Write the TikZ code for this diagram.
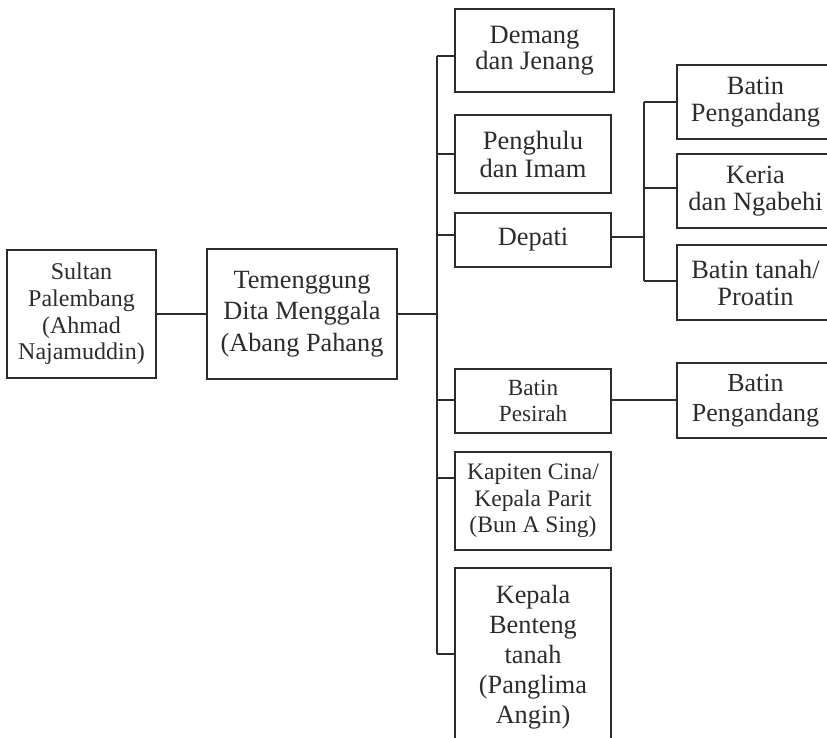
\documentclass[tikz,border=0pt]{standalone}
\usepackage{fontspec}
\setmainfont{Liberation Serif}
\definecolor{ink}{HTML}{2E2B2C}
\tikzset{
  box/.style={draw=ink, text=ink, line width=1.4pt, inner sep=0pt, align=center,
              minimum width=#1},
  box/.default=156pt,
  link/.style={draw=ink, line width=1.4pt},
  fbig/.style={font=\fontsize{26.4}{27}\selectfont},
  fsmall/.style={font=\fontsize{23.4}{26}\selectfont},
}
\begin{document}
\begin{tikzpicture}[x=1pt, y=-1pt]
  \useasboundingbox (0,0) rectangle (827,737);
  \clip (0,0) rectangle (827,737);

  % first two levels
  \node[box=149pt, minimum height=128pt, font=\fontsize{24}{26.7}\selectfont]
    (sultan) at (81.5,314) {Sultan\\Palembang\\(Ahmad\\Najamuddin)};
  \node[box=190pt, minimum height=130pt, font=\fontsize{26.3}{31.7}\selectfont]
    (tem) at (302,314) {Temenggung\\Dita Menggala\\(Abang Pahang};

  % offices under the Temenggung
  \node[box=159pt, minimum height=83pt, fbig, font=\fontsize{26.5}{26}\selectfont]
    (demang) at (534.5,50.5) {Demang\\dan Jenang};
  \node[box, minimum height=78pt, font=\fontsize{26.5}{28}\selectfont]
    (penghulu) at (533,154) {Penghulu\\dan Imam};
  \node[box, minimum height=54pt, fbig]
    (depati) at (533,240) {Depati};
  \node[box, minimum height=64pt, font=\fontsize{23.2}{25.5}\selectfont]
    (pesirah) at (533,401) {Batin\\Pesirah};
  \node[box, minimum height=98pt, fsmall, font=\fontsize{23.6}{26.7}\selectfont]
    (kapiten) at (533,501) {Kapiten Cina/\\Kepala Parit\\(Bun A Sing)};
  \node[box, minimum height=178pt, font=\fontsize{26.3}{30}\selectfont]
    (kepala) at (533,657) {Kepala\\Benteng\\tanah\\(Panglima\\Angin)};

  % offices under the Depati and the Batin Pesirah
  \node[box=157pt, minimum height=74pt, fbig]
    (bpA) at (755.5,102) {Batin\\Pengandang};
  \node[box=157pt, minimum height=74pt, fbig]
    (keria) at (755.5,191) {Keria\\dan Ngabehi};
  \node[box=157pt, minimum height=75pt, fbig]
    (btanah) at (755.5,282.5) {Batin tanah/\\Proatin};
  \node[box=157pt, minimum height=75pt, font=\fontsize{26}{30}\selectfont]
    (bpB) at (755.5,400.5) {Batin\\Pengandang};

  % junction points of the trunks
  \coordinate (jDemang)   at (437,56);
  \coordinate (jPenghulu) at (437,154);
  \coordinate (jDepati)   at (437,235);
  \coordinate (jPesirah)  at (437,400);
  \coordinate (jKapiten)  at (437,478);
  \coordinate (jKepala)   at (437,654);
  \coordinate (dOut)      at (611,237);
  \coordinate (jBpA)      at (644,102);
  \coordinate (jKeria)    at (644,188);
  \coordinate (jTanah)    at (644,281);
  \coordinate (pOut)      at (611,400);

  % connectors
  \draw[link] (sultan.east) -- (tem.west);
  \draw[link] (tem.east) -- (tem.east -| jDemang);
  \draw[link] (jDemang) -- (jKepala);
  \draw[link] (jDemang)   -- (jDemang -| demang.west);
  \draw[link] (jPenghulu) -- (jPenghulu -| penghulu.west);
  \draw[link] (jDepati)   -- (jDepati -| depati.west);
  \draw[link] (jPesirah)  -- (jPesirah -| pesirah.west);
  \draw[link] (jKapiten)  -- (jKapiten -| kapiten.west);
  \draw[link] (jKepala)   -- (jKepala -| kepala.west);

  \draw[link] (dOut) -- (dOut -| jBpA);
  \draw[link] (jBpA) -- (jTanah);
  \draw[link] (jBpA)   -- (jBpA -| bpA.west);
  \draw[link] (jKeria) -- (jKeria -| keria.west);
  \draw[link] (jTanah) -- (jTanah -| btanah.west);

  \draw[link] (pOut) -- (pOut -| bpB.west);
\end{tikzpicture}
\end{document}
